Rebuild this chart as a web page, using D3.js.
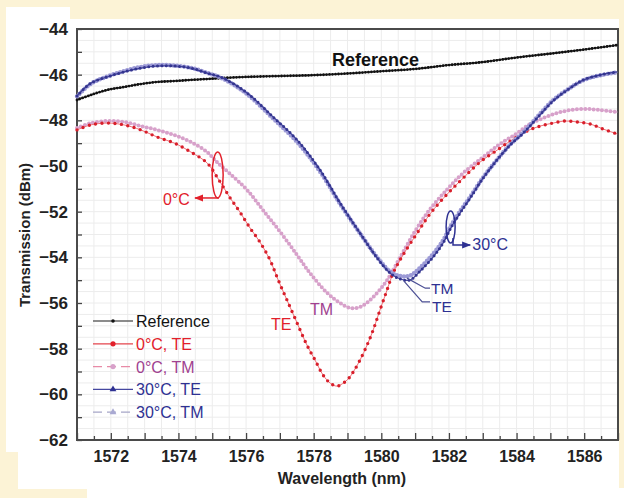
<html>
<head>
<style>
  body { margin: 0; background: #fcf3d6; font-family: "Liberation Sans", Arial, Helvetica, sans-serif; }
  .tick text { font-family: "Liberation Sans", Arial, sans-serif; font-weight: bold; font-size: 16px; fill: #222; }
  .y.axis .tick text { font-size: 17px; }
  .tick line { stroke: #444; stroke-width: 1.3px; }
  .grid line { stroke: #ececec; stroke-width: 1px; }
  .axistitle { font-weight: bold; font-size: 16px; fill: #222; }
  .legtext { font-size: 16px; }
</style>
</head>
<body>
<div class="chart"></div>
<script src="https://cdn.jsdelivr.net/npm/d3@7"></script>
<script>
// values: [wavelength (nm), transmission (dBm)]
const reference = [[1571.00,-47.11],[1571.41,-46.89],[1571.89,-46.67],[1572.39,-46.54],[1572.89,-46.41],
  [1573.37,-46.32],[1573.87,-46.28],[1574.37,-46.23],[1574.85,-46.19],[1575.26,-46.15],[1576.00,-46.10],
  [1577.00,-46.06],[1578.00,-46.02],[1579.00,-45.95],[1580.00,-45.85],[1581.00,-45.75],[1582.00,-45.58],
  [1583.00,-45.45],[1584.00,-45.25],[1585.00,-45.08],[1586.00,-44.90],[1587.00,-44.70]];

const te0 = [[1571.00,-48.42],[1571.41,-48.20],[1571.89,-48.12],[1572.39,-48.20],[1572.89,-48.42],[1573.37,-48.73],
  [1573.87,-48.99],[1574.37,-49.39],[1574.85,-49.87],[1575.14,-50.48],[1575.53,-51.40],[1575.82,-52.02],
  [1576.12,-52.72],[1576.41,-53.33],[1576.71,-54.12],[1576.95,-54.99],[1577.21,-55.87],[1577.51,-56.88],
  [1577.80,-57.84],[1578.04,-58.50],[1578.28,-59.16],[1578.49,-59.51],[1578.69,-59.64],[1578.99,-59.37],
  [1579.17,-59.02],[1579.37,-58.50],[1579.58,-57.84],[1579.76,-57.18],[1579.96,-56.31],[1580.17,-55.43],
  [1580.35,-54.69],[1580.64,-53.90],[1581.06,-52.94],[1581.44,-52.10],[1581.95,-51.23],[1582.42,-50.53],
  [1582.92,-49.83],[1583.43,-49.30],[1583.81,-48.91],[1584.31,-48.47],[1584.70,-48.25],[1585.08,-48.12],
  [1585.44,-48.03],[1585.79,-48.07],[1586.18,-48.16],[1586.56,-48.38],[1586.98,-48.60]];

const tm0 = [[1571.00,-48.34],[1571.41,-48.12],[1571.89,-48.03],[1572.39,-48.07],[1572.89,-48.25],[1573.37,-48.42],
  [1573.87,-48.64],[1574.37,-48.95],[1574.85,-49.39],[1575.14,-49.83],[1575.53,-50.35],[1576.03,-51.05],
  [1576.50,-51.93],[1577.01,-52.89],[1577.51,-53.90],[1577.89,-54.69],[1578.40,-55.56],[1578.78,-56.00],
  [1579.08,-56.22],[1579.37,-56.18],[1579.76,-55.74],[1580.17,-55.00],[1580.56,-53.99],[1581.00,-52.85],
  [1581.44,-51.89],[1581.95,-51.02],[1582.42,-50.31],[1583.01,-49.61],[1583.51,-49.04],[1584.02,-48.56],
  [1584.40,-48.16],[1584.79,-47.90],[1585.20,-47.68],[1585.59,-47.55],[1586.03,-47.50],[1586.47,-47.55],
  [1586.98,-47.64]];

const te30 = [[1571.00,-46.93],[1571.41,-46.37],[1571.89,-46.10],[1572.39,-45.88],[1572.89,-45.71],[1573.37,-45.62],
  [1573.87,-45.62],[1574.37,-45.71],[1574.85,-45.93],[1575.32,-46.15],[1576.03,-46.80],[1576.80,-47.85],
  [1577.51,-48.86],[1578.19,-50.18],[1578.78,-51.62],[1579.37,-52.94],[1579.88,-54.03],[1580.26,-54.69],
  [1580.56,-54.95],[1580.85,-54.99],[1581.15,-54.60],[1581.53,-53.99],[1581.83,-53.37],[1582.04,-52.76],
  [1582.33,-52.06],[1582.63,-51.40],[1583.01,-50.53],[1583.37,-49.83],[1583.81,-49.08],[1584.20,-48.56],
  [1584.64,-47.85],[1585.08,-47.15],[1585.50,-46.67],[1585.98,-46.23],[1586.47,-46.01],[1586.98,-45.88]];

const tm30 = [[1571.00,-46.95],[1571.41,-46.40],[1571.89,-46.08],[1572.39,-45.84],[1572.89,-45.66],[1573.37,-45.58],
  [1573.87,-45.60],[1574.37,-45.70],[1574.85,-45.92],[1575.32,-46.18],[1576.03,-46.85],[1576.80,-47.92],
  [1577.51,-48.95],[1578.19,-50.25],[1578.78,-51.66],[1579.37,-52.95],[1579.88,-54.00],[1580.26,-54.62],
  [1580.56,-54.82],[1580.85,-54.80],[1581.15,-54.45],[1581.53,-53.85],[1581.83,-53.25],[1582.04,-52.66],
  [1582.33,-51.98],[1582.63,-51.34],[1583.01,-50.50],[1583.37,-49.82],[1583.81,-49.06],[1584.20,-48.52],
  [1584.64,-47.80],[1585.08,-47.12],[1585.50,-46.66],[1585.98,-46.24],[1586.47,-46.03],[1586.98,-45.90]];

const xTicks = [1571,1572,1573,1574,1575,1576,1577,1578,1579,1580,1581,1582,1583,1584,1585,1586,1587];
const xLabels = [1572,1574,1576,1578,1580,1582,1584,1586];
const yTicks = [-62,-61,-60,-59,-58,-57,-56,-55,-54,-53,-52,-51,-50,-49,-48,-47,-46,-45,-44];
const legendNames = ["Reference", "0°C, TE", "0°C, TM", "30°C, TE", "30°C, TM"];

// layout
let W = 624, H = 498;
let margin = { left: 77, right: 618, top: 29, bottom: 440 };

let svg = d3.select(".chart").append("svg")
  .attr("width", W).attr("height", H)
  .style("display", "block");

// scanned white panel on cream page
svg.append("path")
  .attr("d", "M6,7 L70,7 L70,19 L619,19 L619,488 L624,488 L624,498 L87,498 L87,489 L18,489 L18,452 L6,452 Z")
  .attr("fill", "#ffffff");

let x = d3.scaleLinear().domain([1571, 1587]).range([margin.left, margin.right]);
let y = d3.scaleLinear().domain([-62, -44]).range([margin.bottom, margin.top]);

// faint grid
let grid = svg.append("g").attr("class", "grid");
grid.selectAll(".vg").data(d3.range(1571.5, 1587, 0.5)).enter().append("line")
  .attr("x1", d => x(d)).attr("x2", d => x(d)).attr("y1", margin.top).attr("y2", margin.bottom);
grid.selectAll(".hg").data(d3.range(-61.5, -44, 0.5)).enter().append("line")
  .attr("y1", d => y(d)).attr("y2", d => y(d)).attr("x1", margin.left).attr("x2", margin.right);

// axes (ticks pointing inward)
let xMinor = d3.axisBottom(x).tickValues(xTicks.slice(0, -1).map(d => d + 0.5))
  .tickSizeInner(-4).tickSizeOuter(0).tickFormat("");
let xMajor = d3.axisBottom(x).tickValues(xTicks)
  .tickSizeInner(-7).tickSizeOuter(0).tickPadding(11)
  .tickFormat(d => xLabels.includes(d) ? d : "");
let yAxis = d3.axisLeft(y).tickValues(yTicks)
  .tickSizeInner(-5).tickSizeOuter(0).tickPadding(9)
  .tickFormat(d => d % 2 === 0 ? d3.format("")(d) : "");

svg.append("g").attr("transform", "translate(0," + margin.bottom + ")").call(xMinor)
  .call(g => g.select(".domain").remove());
svg.append("g").attr("transform", "translate(0," + margin.bottom + ")").call(xMajor)
  .call(g => g.select(".domain").remove());
svg.append("g").attr("class", "y axis")
  .attr("transform", "translate(" + margin.left + ",0)").call(yAxis)
  .call(g => g.select(".domain").remove());

svg.append("rect")
  .attr("x", margin.left).attr("y", margin.top)
  .attr("width", margin.right - margin.left).attr("height", margin.bottom - margin.top)
  .attr("fill", "none").attr("stroke", "#4a4a4a").attr("stroke-width", 2);

// axis titles
svg.append("text").attr("class", "axistitle")
  .attr("x", 342).attr("y", 484).attr("text-anchor", "middle")
  .text("Wavelength (nm)");
svg.append("text").attr("class", "axistitle")
  .attr("transform", "translate(30,235) rotate(-90)")
  .attr("text-anchor", "middle").style("font-size", "15px")
  .text("Transmission (dBm)");

// curves
let line = d3.line()
  .x(d => x(d[0])).y(d => y(d[1]))
  .curve(d3.curveCatmullRom.alpha(0.5));

let plot = svg.append("g");

function drawSeries(data, lineColor, lineWidth, dotColor, dotSize, dotGap) {
  plot.append("path").datum(data)
    .attr("fill", "none").attr("stroke", lineColor).attr("stroke-width", lineWidth)
    .attr("d", line);
  plot.append("path").datum(data)
    .attr("fill", "none").attr("stroke", dotColor).attr("stroke-width", dotSize)
    .attr("stroke-linecap", "round")
    .attr("stroke-dasharray", "0," + dotGap)
    .attr("d", line);
}

drawSeries(reference, "#333", 1.6, "#111", 2.8, 3);
drawSeries(tm0, "#e6bfdc", 1.2, "#d7a1ca", 4, 4.2);
drawSeries(te0, "#f07078", 1, "#d81f2b", 3.4, 6.5);
drawSeries(tm30, "#a9a9dc", 1.2, "#9c9ad6", 4.4, 3.6);
drawSeries(te30, "#3d3f98", 1.2, "#34358f", 3, 4.4);

// annotations
let red = "#e2202b", navy = "#2e3192", purple = "#a0418f";

svg.append("text")
  .attr("x", x(1578.54)).attr("y", y(-45.62))
  .style("font-weight", "bold").style("font-size", "18px").attr("fill", "#111")
  .text("Reference");

svg.append("defs").selectAll("marker")
  .data([["arrRed", red], ["arrNavy", navy]]).enter().append("marker")
  .attr("id", d => d[0]).attr("viewBox", "0 0 10 10").attr("refX", 9).attr("refY", 5)
  .attr("markerWidth", 6).attr("markerHeight", 6).attr("orient", "auto")
  .append("path").attr("d", "M0,1 L10,5 L0,9 Z").attr("fill", d => d[1]);

// 0 °C marker
svg.append("ellipse")
  .attr("cx", x(1575.16)).attr("cy", y(-50.39)).attr("rx", 5.5).attr("ry", 23)
  .attr("fill", "none").attr("stroke", red).attr("stroke-width", 1.5);
svg.append("line")
  .attr("x1", x(1575.2)).attr("y1", y(-51.40)).attr("x2", x(1574.49)).attr("y2", y(-51.40))
  .attr("stroke", red).attr("stroke-width", 1.5).attr("marker-end", "url(#arrRed)");
svg.append("text").attr("class", "legtext")
  .attr("x", x(1573.54)).attr("y", y(-51.71)).attr("fill", red).text("0°C");

// 30 °C marker
svg.append("ellipse")
  .attr("cx", x(1582.05)).attr("cy", y(-52.67)).attr("rx", 4.5).attr("ry", 16)
  .attr("fill", "none").attr("stroke", navy).attr("stroke-width", 1.5);
svg.append("path")
  .attr("d", "M" + x(1582.12) + "," + y(-53.15) + " L" + x(1582.12) + "," + y(-53.46) +
    " L" + x(1582.63) + "," + y(-53.46))
  .attr("fill", "none").attr("stroke", navy).attr("stroke-width", 1.5)
  .attr("marker-end", "url(#arrNavy)");
svg.append("text").attr("class", "legtext")
  .attr("x", x(1582.69)).attr("y", y(-53.68)).attr("fill", navy).text("30°C");

// TE / TM labels
svg.append("text").attr("class", "legtext")
  .attr("x", x(1576.74)).attr("y", y(-57.18)).attr("fill", red).text("TE");
svg.append("text").attr("class", "legtext")
  .attr("x", x(1577.89)).attr("y", y(-56.53)).attr("fill", purple).text("TM");

let leaders = [
  [[1580.76, -54.91], [1581.30, -55.35], [1581.44, -55.35]],
  [[1580.67, -55.04], [1581.21, -55.95], [1581.44, -55.95]]
];
svg.selectAll(".leader").data(leaders).enter().append("path")
  .attr("d", d3.line().x(d => x(d[0])).y(d => y(d[1])))
  .attr("fill", "none").attr("stroke", "#4b4f94").attr("stroke-width", 1.2);
svg.append("text").attr("class", "legtext").style("font-size", "15.5px")
  .attr("x", x(1581.47)).attr("y", y(-55.62)).attr("fill", navy).text("TM");
svg.append("text").attr("class", "legtext").style("font-size", "15.5px")
  .attr("x", x(1581.50)).attr("y", y(-56.40)).attr("fill", navy).text("TE");

// legend
let legendStyle = [
  { line: "#666", dash: null, mark: "dot", fill: "#111", r: 1.8, text: "#111" },
  { line: "#e4454c", dash: null, mark: "dot", fill: red, r: 2.6, text: red },
  { line: "#e88aa6", dash: "9,5", mark: "dot", fill: "#d7a1ca", r: 2.6, text: purple },
  { line: "#4547a0", dash: null, mark: "tri", fill: navy, r: 3, text: navy },
  { line: "#a6a6c8", dash: "9,5", mark: "tri", fill: "#a9a9d2", r: 3, text: navy }
];
let leg = svg.append("g").attr("transform", "translate(93,321)");
legendNames.forEach(function (name, i) {
  let s = legendStyle[i];
  let g = leg.append("g").attr("transform", "translate(0," + (i * 22.8) + ")");
  g.append("line").attr("x1", 0).attr("x2", 40).attr("y1", 0).attr("y2", 0)
    .attr("stroke", s.line).attr("stroke-width", 1.3)
    .attr("stroke-dasharray", s.dash);
  if (s.mark === "dot") {
    g.append("circle").attr("cx", 20).attr("cy", 0).attr("r", s.r).attr("fill", s.fill);
  } else {
    g.append("path").attr("d", d3.symbol(d3.symbolTriangle, 20)())
      .attr("transform", "translate(20,0)").attr("fill", s.fill);
  }
  g.append("text").attr("class", "legtext")
    .attr("x", 43).attr("y", 6).attr("fill", s.text).text(name);
});
</script>
</body>
</html>
